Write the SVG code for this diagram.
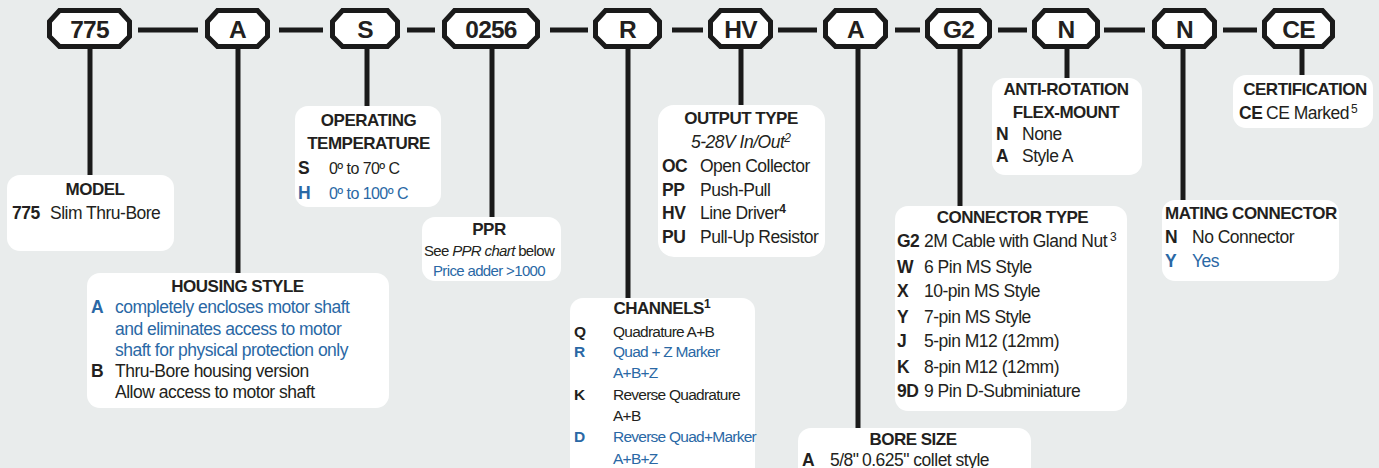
<svg xmlns="http://www.w3.org/2000/svg" width="1379" height="468" viewBox="0 0 1379 468">
<defs>
<style>
.bg{fill:#e9ecec}
.oct{fill:#ffffff;stroke:#1a1a1a;stroke-width:5;stroke-linejoin:miter}
.code{font-family:"Liberation Sans",Arial,sans-serif;font-weight:bold;font-size:24.5px;letter-spacing:-0.8px;fill:#231f20;text-anchor:middle}
.link{stroke:#1a1a1a;stroke-width:5;fill:none}
.box{fill:#ffffff}
.t{font-family:"Liberation Sans",Arial,sans-serif;font-weight:bold;font-size:17px;letter-spacing:-0.5px;fill:#231f20;text-anchor:middle}
.b{font-family:"Liberation Sans",Arial,sans-serif;font-size:17.5px;letter-spacing:-0.5px;fill:#231f20}
.k{font-weight:bold}
.blue{fill:#2a68a5}
.sm{font-size:15.5px;letter-spacing:-0.75px}
.tmp{font-size:16px;letter-spacing:-0.55px}
.xs{font-size:15px;letter-spacing:-0.65px}
.it{font-style:italic}
.sup{font-size:12px;letter-spacing:0}
</style>
</defs>
<rect class="bg" x="0" y="0" width="1379" height="468"/>

<g id="connectors">
<line class="link" x1="138" y1="30" x2="198" y2="30"/>
<line class="link" x1="279" y1="30" x2="323" y2="30"/>
<line class="link" x1="407" y1="30" x2="435" y2="30"/>
<line class="link" x1="550" y1="30" x2="588" y2="30"/>
<line class="link" x1="672" y1="30" x2="703" y2="30"/>
<line class="link" x1="778" y1="30" x2="817" y2="30"/>
<line class="link" x1="895" y1="30" x2="920" y2="30"/>
<line class="link" x1="998" y1="30" x2="1027" y2="30"/>
<line class="link" x1="1104" y1="30" x2="1145" y2="30"/>
<line class="link" x1="1223" y1="30" x2="1257" y2="30"/>
<line class="link" x1="90" y1="48" x2="90" y2="176"/>
<line class="link" x1="238" y1="48" x2="238" y2="274"/>
<line class="link" x1="367" y1="48" x2="367" y2="107"/>
<line class="link" x1="492" y1="48" x2="492" y2="218"/>
<line class="link" x1="628" y1="48" x2="628" y2="299"/>
<line class="link" x1="741" y1="48" x2="741" y2="106"/>
<line class="link" x1="858" y1="48" x2="858" y2="429"/>
<line class="link" x1="960" y1="48" x2="960" y2="207"/>
<line class="link" x1="1067" y1="48" x2="1067" y2="79"/>
<line class="link" x1="1183" y1="48" x2="1183" y2="201"/>
<line class="link" x1="1302" y1="48" x2="1302" y2="76"/>
</g>

<g id="code-775"><path class="oct" d="M59.5,10.5 L119.5,10.5 L129.5,21.5 L129.5,36.5 L119.5,46.5 L59.5,46.5 L49.5,36.5 L49.5,21.5 Z"/><text class="code" x="89.5" y="37.5">775</text></g>
<g id="code-A"><path class="oct" d="M217.5,10.5 L257.5,10.5 L267.5,21.5 L267.5,36.5 L257.5,46.5 L217.5,46.5 L207.5,36.5 L207.5,21.5 Z"/><text class="code" x="237.5" y="37.5">A</text></g>
<g id="code-S"><path class="oct" d="M342.5,10.5 L387.5,10.5 L397.5,21.5 L397.5,36.5 L387.5,46.5 L342.5,46.5 L332.5,36.5 L332.5,21.5 Z"/><text class="code" x="365" y="37.5">S</text></g>
<g id="code-0256"><path class="oct" d="M454.5,10.5 L527.5,10.5 L537.5,21.5 L537.5,36.5 L527.5,46.5 L454.5,46.5 L444.5,36.5 L444.5,21.5 Z"/><text class="code" x="491" y="37.5">0256</text></g>
<g id="code-R"><path class="oct" d="M605.5,10.5 L649.5,10.5 L659.5,21.5 L659.5,36.5 L649.5,46.5 L605.5,46.5 L595.5,36.5 L595.5,21.5 Z"/><text class="code" x="627.5" y="37.5">R</text></g>
<g id="code-HV"><path class="oct" d="M720.5,10.5 L760.5,10.5 L770.5,21.5 L770.5,36.5 L760.5,46.5 L720.5,46.5 L710.5,36.5 L710.5,21.5 Z"/><text class="code" x="740.5" y="37.5">HV</text></g>
<g id="code-A2"><path class="oct" d="M835.5,10.5 L875.5,10.5 L885.5,21.5 L885.5,36.5 L875.5,46.5 L835.5,46.5 L825.5,36.5 L825.5,21.5 Z"/><text class="code" x="855.5" y="37.5">A</text></g>
<g id="code-G2"><path class="oct" d="M937.5,10.5 L979.5,10.5 L989.5,21.5 L989.5,36.5 L979.5,46.5 L937.5,46.5 L927.5,36.5 L927.5,21.5 Z"/><text class="code" x="958.5" y="37.5">G2</text></g>
<g id="code-N"><path class="oct" d="M1044.5,10.5 L1087.5,10.5 L1097.5,21.5 L1097.5,36.5 L1087.5,46.5 L1044.5,46.5 L1034.5,36.5 L1034.5,21.5 Z"/><text class="code" x="1066" y="37.5">N</text></g>
<g id="code-N2"><path class="oct" d="M1164.5,10.5 L1204.5,10.5 L1214.5,21.5 L1214.5,36.5 L1204.5,46.5 L1164.5,46.5 L1154.5,36.5 L1154.5,21.5 Z"/><text class="code" x="1184.5" y="37.5">N</text></g>
<g id="code-CE"><path class="oct" d="M1274.5,10.5 L1322.5,10.5 L1332.5,21.5 L1332.5,36.5 L1322.5,46.5 L1274.5,46.5 L1264.5,36.5 L1264.5,21.5 Z"/><text class="code" x="1298.5" y="37.5">CE</text></g>

<g id="box-model">
<rect class="box" x="7" y="175" width="167" height="76" rx="13"/>
<text class="t" x="95" y="195">MODEL</text>
<text class="b k" x="12" y="219">775</text>
<text class="b" x="50" y="219">Slim Thru-Bore</text>
</g>

<g id="box-housing">
<rect class="box" x="87" y="273" width="302" height="135" rx="13"/>
<text class="t" x="237.5" y="292">HOUSING STYLE</text>
<text class="b k blue" x="91" y="313">A</text>
<text class="b blue" x="115" y="313">completely encloses motor shaft</text>
<text class="b blue" x="115" y="335">and eliminates access to motor</text>
<text class="b blue" x="115" y="356">shaft for physical protection only</text>
<text class="b k" x="91" y="377">B</text>
<text class="b" x="115" y="377">Thru-Bore housing version</text>
<text class="b" x="115" y="398">Allow access to motor shaft</text>
</g>

<g id="box-temp">
<rect class="box" x="295" y="106" width="146" height="101" rx="13"/>
<text class="t" x="368.5" y="126">OPERATING</text>
<text class="t" x="368.5" y="149">TEMPERATURE</text>
<text class="b k" x="298" y="174">S</text>
<text class="b tmp" x="329" y="174">0º to 70º C</text>
<text class="b k blue" x="298" y="199">H</text>
<text class="b tmp blue" x="329" y="199">0º to 100º C</text>
</g>

<g id="box-ppr">
<rect class="box" x="422" y="217" width="139" height="64" rx="13"/>
<text class="t" x="489" y="235">PPR</text>
<text class="b xs" x="489" y="256" text-anchor="middle">See <tspan class="it">PPR chart</tspan> below</text>
<text class="b xs blue" x="489" y="276" text-anchor="middle">Price adder &gt;1000</text>
</g>

<g id="box-channels">
<rect class="box" x="570" y="298" width="185" height="185" rx="13"/>
<text class="t" x="662" y="314" font-size="16" letter-spacing="-0.7">CHANNELS<tspan class="sup" font-size="11" dy="-6">1</tspan></text>
<text class="b k sm" x="574" y="337">Q</text>
<text class="b sm" x="613" y="337">Quadrature A+B</text>
<text class="b k sm blue" x="574" y="357">R</text>
<text class="b sm blue" x="613" y="357">Quad + Z Marker</text>
<text class="b sm blue" x="613" y="378">A+B+Z</text>
<text class="b k sm" x="574" y="400">K</text>
<text class="b sm" x="613" y="400">Reverse Quadrature</text>
<text class="b sm" x="613" y="421">A+B</text>
<text class="b k sm blue" x="574" y="442">D</text>
<text class="b sm blue" x="613" y="442">Reverse Quad+Marker</text>
<text class="b sm blue" x="613" y="464">A+B+Z</text>
</g>

<g id="box-output">
<rect class="box" x="658" y="105" width="167" height="152" rx="16"/>
<text class="t" x="741" y="124">OUTPUT TYPE</text>
<text class="b it" x="741" y="148" text-anchor="middle">5-28V In/Out<tspan class="sup" dy="-6">2</tspan></text>
<text class="b k" x="662" y="172">OC</text>
<text class="b" x="700" y="172">Open Collector</text>
<text class="b k" x="662" y="196">PP</text>
<text class="b" x="700" y="196">Push-Pull</text>
<text class="b k" x="662" y="219">HV</text>
<text class="b" x="700" y="219">Line Driver<tspan class="sup k" dy="-6">4</tspan></text>
<text class="b k" x="662" y="243">PU</text>
<text class="b" x="700" y="243">Pull-Up Resistor</text>
</g>

<g id="box-bore">
<rect class="box" x="798" y="428" width="233" height="60" rx="13"/>
<text class="t" x="913" y="445">BORE SIZE</text>
<text class="b k" x="802" y="466">A</text>
<text class="b" x="830" y="466" letter-spacing="-1">5/8"</text>
<text class="b" x="862" y="466">0.625" collet style</text>
</g>

<g id="box-connector">
<rect class="box" x="895" y="206" width="232" height="205" rx="13"/>
<text class="t" x="1012.5" y="223">CONNECTOR TYPE</text>
<text class="b k" x="897" y="247">G2</text>
<text class="b" x="924" y="247">2M Cable with Gland Nut<tspan class="sup" dx="3" dy="-6">3</tspan></text>
<text class="b k" x="897" y="273">W</text>
<text class="b" x="924" y="273">6 Pin MS Style</text>
<text class="b k" x="897" y="297">X</text>
<text class="b" x="924" y="297">10-pin MS Style</text>
<text class="b k" x="897" y="323">Y</text>
<text class="b" x="924" y="323">7-pin MS Style</text>
<text class="b k" x="897" y="347">J</text>
<text class="b" x="924" y="347">5-pin M12 (12mm)</text>
<text class="b k" x="897" y="373">K</text>
<text class="b" x="924" y="373">8-pin M12 (12mm)</text>
<text class="b k" x="897" y="397">9D</text>
<text class="b" x="924" y="397">9 Pin D-Subminiature</text>
</g>

<g id="box-antirotation">
<rect class="box" x="992" y="78" width="150" height="97" rx="13"/>
<text class="t" x="1066" y="95">ANTI-ROTATION</text>
<text class="t" x="1066" y="118">FLEX-MOUNT</text>
<text class="b k" x="996" y="140">N</text>
<text class="b" x="1022" y="140">None</text>
<text class="b k" x="996" y="162">A</text>
<text class="b" x="1022" y="162">Style A</text>
</g>

<g id="box-mating">
<rect class="box" x="1162" y="200" width="177" height="81" rx="13"/>
<text class="t" x="1251" y="219">MATING CONNECTOR</text>
<text class="b k" x="1165" y="243">N</text>
<text class="b" x="1192" y="243">No Connector</text>
<text class="b k blue" x="1165" y="267">Y</text>
<text class="b blue" x="1192" y="267">Yes</text>
</g>

<g id="box-certification">
<rect class="box" x="1233" y="75" width="140" height="53" rx="13"/>
<text class="t" x="1305" y="95">CERTIFICATION</text>
<text class="b k" x="1239" y="119">CE</text>
<text class="b" x="1266" y="119">CE Marked<tspan class="sup" dx="2" dy="-6">5</tspan></text>
</g>
</svg>
